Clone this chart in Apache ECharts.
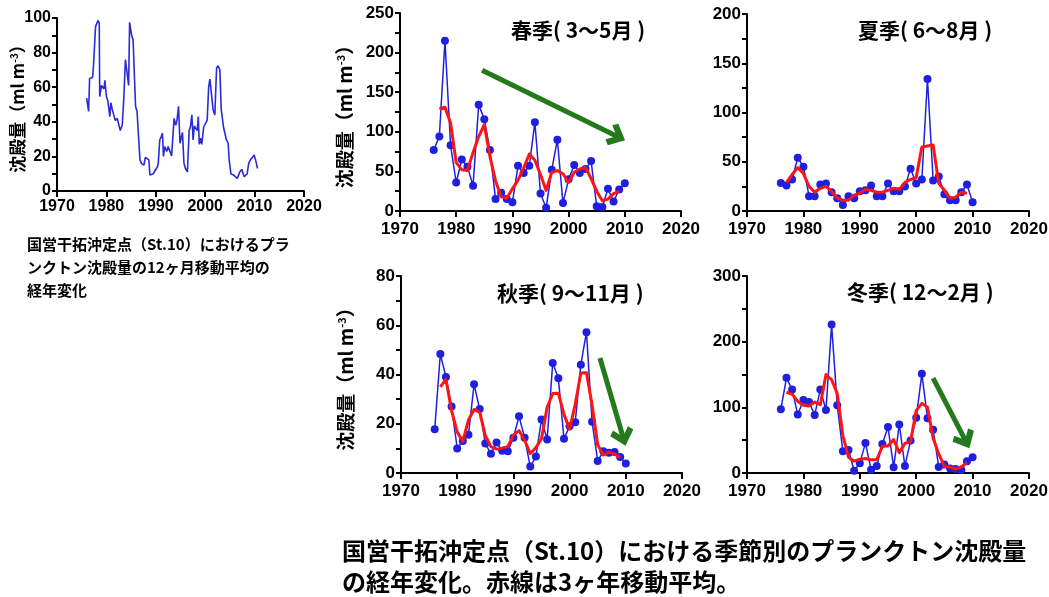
<!DOCTYPE html>
<html><head><meta charset="utf-8">
<script src="https://cdn.jsdelivr.net/npm/echarts@6/dist/echarts.min.js"></script>
<style>html,body{margin:0;padding:0;background:#fff}#c{width:1049px;height:597px}</style>
</head><body><div id="c"></div>
<script>
// ---- Data ----
const tlYears = [1976.0,1976.3,1976.4,1976.6,1977.2,1977.4,1977.8,1978.0,1978.3,1978.55,1978.65,1979.0,1979.3,1979.5,1979.7,1980.0,1980.3,1980.7,1980.9,1981.2,1981.5,1981.8,1982.2,1982.5,1982.8,1983.2,1983.5,1983.85,1984.25,1984.5,1984.7,1985.1,1985.4,1985.7,1985.9,1986.2,1986.5,1986.8,1987.1,1987.6,1987.9,1988.2,1988.6,1988.8,1989.1,1989.5,1989.9,1990.3,1990.5,1990.8,1991.1,1991.35,1991.55,1991.8,1992.2,1992.5,1992.8,1993.2,1993.5,1993.7,1994.05,1994.3,1994.6,1994.9,1995.2,1995.4,1995.7,1996.0,1996.4,1996.75,1997.0,1997.3,1997.55,1997.8,1998.1,1998.4,1998.6,1998.8,1999.05,1999.3,1999.7,2000.1,2000.4,2000.7,2000.95,2001.35,2001.6,2001.95,2002.3,2002.6,2002.97,2003.25,2003.45,2003.7,2004.0,2004.3,2004.65,2004.85,2005.2,2005.7,2006.1,2006.5,2006.8,2007.0,2007.4,2007.7,2007.9,2008.25,2008.5,2008.8,2009.2,2009.6,2009.9,2010.2,2010.4,2010.6];
const tlValues = [53.7,54,46,65,65.6,73,95,94,98.6,97,54.6,61,62,59,64,54.6,52,43,51,47,46.5,40.7,42,41,35,38,52,76,77,61,97.5,90,87.5,86.5,49,46,46,18,16,15,19.5,20,18,9.3,8.7,10,12,13.7,16,29.5,31.5,33.4,20,25.7,22.8,25.7,24.7,20.3,20,42,38,41,49,27.6,31.5,33.8,16,13,11,35,37,44,29.5,37.6,38,35,43,27,30.5,27,37,38,41,60,64.7,65,47,44,71,72.4,70,47,48,37,38,29.5,27.6,18,10,9.3,8.3,7.3,6.4,11,12.5,11.8,8.3,8.3,10,16,18.3,19.5,20.8,18,17,13];

const seasonYears = [1976,1977,1978,1979,1980,1981,1982,1983,1984,1985,1986,1987,1988,1989,1990,1991,1992,1993,1994,1995,1996,1997,1998,1999,2000,2001,2002,2003,2004,2005,2006,2007,2008,2009,2010];
const maYears = [1977,1978,1979,1980,1981,1982,1983,1984,1985,1986,1987,1988,1989,1990,1991,1992,1993,1994,1995,1996,1997,1998,1999,2000,2001,2002,2003,2004,2005,2006,2007,2008,2009];

const spring = [77,94,215,83,36,65,56,32,134,116,77,15,23,15,11,57,48,57,112,22,4,52,90,10,40,58,48,53,63,6,5,28,12,27,35];
const springMA = [129,131,111,61,52,51,74,94,109,69,38,18,16,28,39,54,72,64,46,26,49,51,47,36,49,53,55,41,25,13,15,22,25];

const summer = [28.5,26,32,54,45,15,15,27,28,19,13,6,15,13,20,21,26,15,15,28,20,20,25,43,28,32,134,31,35,17,11,11,19,27,9];
const summerMA = [29,37,44,38,25,19,23,25,20,13,11,11,16,18,22,21,19,19,21,23,22,29,32,34,65,66,67,28,21,13,14,19,18];

const autumn = [17.8,48.3,39,27,10,13,15.5,36,26,12,7.8,12.4,9,8.8,14.3,23,14.3,2.6,6.7,21.7,13.6,44.7,38.5,13.9,19,20.6,44,57.2,20.8,4.9,8.8,8.2,8.5,6.5,3.9];
const autumnMA = [35,38,25.3,16.7,12.8,21.5,25.8,24.7,15.3,10.7,9.7,10.1,10.7,15.4,17.2,13.3,7.9,10.3,14,26.7,32.3,32.4,23.8,17.8,27.9,40.6,40.7,27.6,11.5,7.3,8.5,7.7,6.3];

const winter = [97,145,127,89,111,108,88.5,127,96,226,103,33,35,3.5,15,45.5,5,10.6,44,70,8.6,74,10.6,49.6,84,151,83.5,66,9,13,7,6,4.5,18,24];
const winterMA = [123,120,109,103,102,108,104,150,142,121,57,24,18,21,22,20,20,41,41,51,31,45,48,95,106,100,53,29,10,9,6,9.5,15.5];

const xTicks = [1970,1980,1990,2000,2010,2020];
const yMaxes = [100,250,200,80,300];
const yIntervals = [20,50,50,20,100];

const seasonTitles = ['春季( 3～5月 )','夏季( 6～8月 )','秋季( 9～11月 )','冬季( 12～2月 )'];
const yName = '沈殿量（ml m{sup|-3}）';
const captionLeft = '国営干拓沖定点（St.10）におけるプラ\nンクトン沈殿量の12ヶ月移動平均の\n経年変化';
const captionBottom = '国営干拓沖定点（St.10）における季節別のプランクトン沈殿量\nの経年変化。赤線は3ヶ年移動平均。';

// trend arrows (data coordinates) per season index
const arrows = {
  0: [[1984.6,177.6],[2008.6,94.3]],
  2: [[2005.4,46.7],[2009.5,14.6]],
  3: [[2003.0,144.6],[2008.7,50]]
};

// ---- Layout ----
const grids = [
  {left:57, top:18, width:247, height:173},
  {left:400, top:13, width:281, height:198},
  {left:747, top:14, width:282, height:197},
  {left:401, top:276, width:281, height:197},
  {left:747, top:276, width:282, height:197}
];
const numFont = '"Liberation Sans", Arial, sans-serif';
const jpFont = '"Noto Sans CJK JP", sans-serif';

function xAxis(i){
  return {type:'value', gridIndex:i, min:xTicks[0], max:xTicks[xTicks.length-1], interval:10,
    axisLine:{show:true, onZero:false, lineStyle:{color:'#000', width:2}},
    axisTick:{show:true, length:6, lineStyle:{color:'#000', width:2}},
    splitLine:{show:false},
    axisLabel:{color:'#000', fontSize: i===0?16:17, fontWeight:'bold', fontFamily:numFont, margin: i===0?8:10, formatter:v=>String(v)}
  };
}
function yAxis(i){
  const a = {type:'value', gridIndex:i, min:0, max:yMaxes[i], interval:yIntervals[i],
    axisLine:{show:true, onZero:false, lineStyle:{color:'#000', width:2}},
    axisTick:{show:true, length:5, lineStyle:{color:'#000', width:2}},
    minorTick:{show:true, splitNumber:2, length:5, lineStyle:{color:'#000', width:2}},
    splitLine:{show:false}, minorSplitLine:{show:false},
    axisLabel:{color:'#000', fontSize: i===0?16:17, fontWeight:'bold', fontFamily:numFont, margin:6}
  };
  if (i===0 || i===1 || i===3){
    const fs = i===0?17:19;
    a.name = yName;
    a.nameLocation = 'middle';
    a.nameRotate = 90;
    a.nameMoveOverlap = false;
    a.nameGap = i===0?31:46;
    a.nameTextStyle = {color:'#000', fontSize:fs, fontWeight:'bold', fontFamily:jpFont,
      rich:{sup:{fontSize:Math.round(fs*0.58), fontWeight:'bold', fontFamily:jpFont, color:'#000', verticalAlign:'top'}}};
  }
  return a;
}

const chevron = 'path://M0,10 L10,0 L20,10 L16.5,13.5 L10,7 L3.5,13.5 Z';
const blue = '#1f1fe0';
const series = [{
  type:'line', xAxisIndex:0, yAxisIndex:0, symbol:'none',
  data: tlYears.map((y,i)=>[y, tlValues[i]]),
  lineStyle:{color:'#2a2ad6', width:1.6}
}];
const seasonData = [[spring,springMA],[summer,summerMA],[autumn,autumnMA],[winter,winterMA]];
seasonData.forEach((sd,k)=>{
  const idx = k+1;
  const s = {type:'line', xAxisIndex:idx, yAxisIndex:idx, symbol:'circle', symbolSize:8,
    data: seasonYears.map((y,i)=>[y, sd[0][i]]),
    itemStyle:{color:blue}, lineStyle:{color:blue, width:1.5}, z:2};
  if (arrows[k]){
    s.markLine = {silent:true, animation:false, symbol:['none', chevron], symbolSize:[24,18],
      lineStyle:{color:'#23791c', width:5, type:'solid'}, label:{show:false},
      emphasis:{disabled:true},
      data:[[{coord:arrows[k][0]},{coord:arrows[k][1]}]]};
  }
  series.push(s);
  series.push({type:'line', xAxisIndex:idx, yAxisIndex:idx, symbol:'none', z:3,
    data: maYears.map((y,i)=>[y, sd[1][i]]),
    lineStyle:{color:'#ff1414', width:3, join:'round'}});
});

const titlePos = [[511,20],[858,20],[497,283],[847,282]];
const graphic = seasonTitles.map((t,k)=>({type:'text', left:titlePos[k][0], top:titlePos[k][1],
  style:{text:t, font:'bold 21px ' + jpFont, fill:'#000'}}));
graphic.push({type:'text', left:27, top:233, style:{text:captionLeft, font:'bold 15px ' + jpFont, fill:'#000', lineHeight:23}});
graphic.push({type:'text', left:342, top:535, style:{text:captionBottom, font:'bold 24px ' + jpFont, fill:'#000', lineHeight:31}});

const chart = echarts.init(document.getElementById('c'));
chart.setOption({
  animation:false,
  backgroundColor:'#fff',
  grid: grids.map(g=>Object.assign({outerBoundsMode:'none', containLabel:false}, g)),
  xAxis: grids.map((g,i)=>xAxis(i)),
  yAxis: grids.map((g,i)=>yAxis(i)),
  series: series,
  graphic: graphic
});
</script></body></html>
